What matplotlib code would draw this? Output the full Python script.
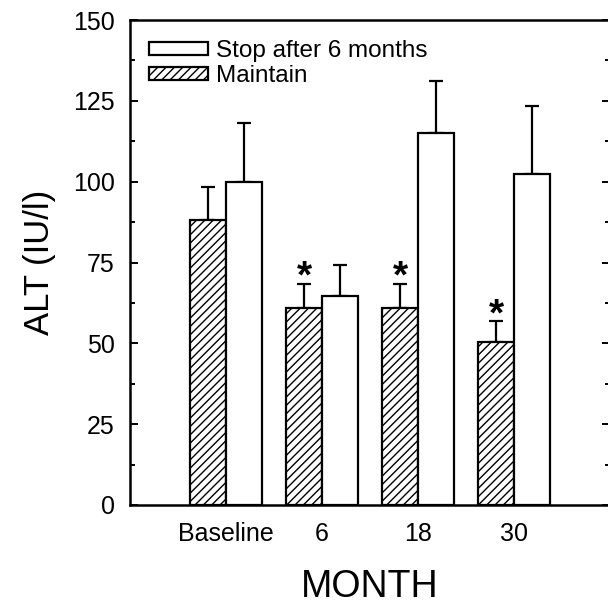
import numpy as np
import matplotlib
matplotlib.use('Agg')
import matplotlib.pyplot as plt
from matplotlib.ticker import MultipleLocator

plt.rcParams['font.family'] = ['Liberation Sans', 'DejaVu Sans']
plt.rcParams['hatch.linewidth'] = 1.0

# ALT by month, mean and upper error
months = ['Baseline', '6', '18', '30']
maintain = [88, 61, 61, 50.3]
maintain_err = [10.5, 7.5, 7.5, 6.6]
stop = [100, 64.5, 115.2, 102.3]
stop_err = [18, 9.8, 16, 21.2]
starred = [False, True, True, True]

x = np.arange(len(months))
w = 0.375

fig = plt.figure(figsize=(6.08, 6.09), dpi=100)
ax = fig.add_axes([130/608, 104/609, 480/608, 485/609])

# Maintain (hatched) and Stop (open) bars
b_m = ax.bar(x - w/2, maintain, w, color='white', edgecolor='black', hatch='////',
             linewidth=1.6, label='Maintain', zorder=2)
b_s = ax.bar(x + w/2, stop, w, color='white', edgecolor='black',
             linewidth=1.6, label='Stop after 6 months', zorder=2)

# upper error bars only
ax.errorbar(x - w/2, maintain, yerr=[np.zeros(len(x)), maintain_err], fmt='none',
            ecolor='black', elinewidth=1.6, capsize=4.7, capthick=1.6, zorder=1)
ax.errorbar(x + w/2, stop, yerr=[np.zeros(len(x)), stop_err], fmt='none',
            ecolor='black', elinewidth=1.6, capsize=4.7, capthick=1.6, zorder=1)

# significance stars
for xi, m, e, s in zip(x, maintain, maintain_err, starred):
    if s:
        ax.annotate('*', xy=(xi - w/2, m + e), xytext=(0, -3), textcoords='offset points',
                    ha='center', va='baseline', fontsize=28, fontweight='bold')

ax.set_xlim(-1, 4)
ax.set_ylim(0, 150)
ax.set_xticks(x)
ax.set_xticklabels(months)
ax.yaxis.set_major_locator(MultipleLocator(25))
ax.yaxis.set_minor_locator(MultipleLocator(12.5))
ax.tick_params(axis='x', length=0, labelsize=18, pad=12)
ax.tick_params(axis='y', which='both', direction='in', right=True, labelsize=18, pad=11, width=1.4)
ax.tick_params(axis='y', which='major', length=6)
ax.tick_params(axis='y', which='minor', length=3.5)
for sp in ax.spines.values():
    sp.set_linewidth(1.8)

ax.set_xlabel('MONTH', fontsize=27, labelpad=17)
ax.set_ylabel('ALT (IU/l)', fontsize=25, labelpad=12)

ax.legend([b_s, b_m], ['Stop after 6 months', 'Maintain'], loc='upper left',
          bbox_to_anchor=(0.04, 0.958), frameon=False, fontsize=17.5, borderpad=0,
          borderaxespad=0, handlelength=2.4, handleheight=0.45, handletextpad=0.35,
          labelspacing=0.12)

fig.savefig('out.png', dpi=100)
